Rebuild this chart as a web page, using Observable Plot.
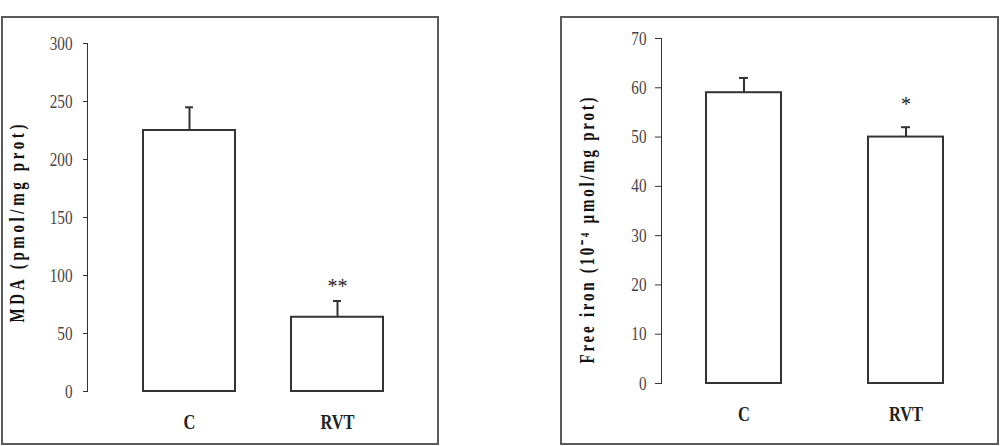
<!DOCTYPE html>
<html>
<head>
<meta charset="utf-8">
<script src="https://cdn.jsdelivr.net/npm/d3@7"></script>
<script src="https://cdn.jsdelivr.net/npm/@observablehq/plot@0.6"></script>
<style>
  html, body { margin: 0; padding: 0; background: #fff; }
  body { width: 1000px; height: 446px; position: relative; overflow: hidden; }
  .panel { position: absolute; box-sizing: border-box; border: 2px solid #5a5a5a; }
  .plot { position: absolute; top: 0; }
  svg text { font-family: "Liberation Serif", "Times New Roman", serif; }
</style>
</head>
<body>
<div class="panel" style="left:1px; top:16px; width:438px; height:429px;"></div>
<div class="panel" style="left:560px; top:16px; width:439px; height:429px;"></div>
<div id="left" class="plot" style="left:0px;"></div>
<div id="right" class="plot" style="left:500px;"></div>
<script>
const groups = ["C", "RVT"];
const mdaMean = [225, 64];
const mdaErr = [20, 14];
const mdaSig = ["", "**"];
const mdaTicks = [0, 50, 100, 150, 200, 250, 300];

const ironMean = [59, 50];
const ironErr = [3, 2];
const ironSig = ["", "*"];
const ironTicks = [0, 10, 20, 30, 40, 50, 60, 70];

function makeData(mean, err, sig) {
  return groups.map((g, i) => ({group: g, mean: mean[i], err: err[i], top: mean[i] + err[i], sig: sig[i]}));
}

function squeeze(svg, sel, k) {
  svg.querySelectorAll(sel).forEach(t => {
    const tr = t.getAttribute("transform") || "";
    t.setAttribute("transform", tr + ` scale(${k},1)`);
  });
}

function panel(opts) {
  const data = makeData(opts.mean, opts.err, opts.sig);
  const p = Plot.plot({
    width: opts.width,
    height: 446,
    marginLeft: opts.axisX,
    marginTop: opts.top,
    marginBottom: 446 - opts.bottom,
    marginRight: 0,
    style: {background: "transparent", color: "#333", overflow: "visible"},
    x: {type: "band", domain: groups, range: opts.xRange, paddingInner: opts.padIn, paddingOuter: opts.padIn / 2, label: null, tickSize: 0, tickPadding: 23},
    y: {domain: opts.domain, ticks: opts.ticks, tickFormat: d3.format("d"), label: null, line: true, tickSize: opts.tickSize, tickPadding: opts.tickPad},
    marks: [
      Plot.ruleX(data, {x: "group", y1: "mean", y2: "top", stroke: "#333", strokeWidth: 2}),
      Plot.tickY(data, {x: "group", y: "top", stroke: "#333", strokeWidth: 2, insetLeft: opts.capInset, insetRight: opts.capInset}),
      Plot.barY(data, {x: "group", y: "mean", fill: "white", stroke: "#333", strokeWidth: 2}),
      Plot.text(data, {x: "group", y: "top", text: "sig", dy: opts.sigDy, fontSize: 20, fill: "#222"}),
      Plot.text([opts.label], {frameAnchor: "left", textAnchor: "middle", text: d => d, rotate: -90, dx: opts.labelDx, dy: opts.labelDy, fontSize: 20, fontWeight: "bold", fill: "#111"})
    ]
  });
  p.querySelectorAll("g[aria-label='y-axis tick label']").forEach(g => { g.setAttribute("font-size", "19"); g.setAttribute("fill", "#444"); });
  p.querySelectorAll("g[aria-label='x-axis tick label']").forEach(g => { g.setAttribute("font-size", "20"); g.setAttribute("font-weight", "bold"); g.setAttribute("fill", "#222"); });
  p.querySelectorAll("text").forEach(t => {
    if (t.textContent === opts.label) {
      const k = 0.75;
      const tr = t.getAttribute("transform") || "";
      t.setAttribute("transform", tr + ` scale(${k},1)`);
      t.setAttribute("textLength", String(opts.labelLen / k));
      t.setAttribute("lengthAdjust", "spacing");
    }
  });
  squeeze(p, "g[aria-label='y-axis tick label'] text", 0.8);
  squeeze(p, "g[aria-label='x-axis tick label'] text", 0.82);
  return p;
}

document.getElementById("left").append(panel({
  width: 440, axisX: 87, top: 43, bottom: 391,
  domain: [0, 300], ticks: mdaTicks, tickSize: 4, tickPad: 11,
  xRange: [114.9, 411.1], padIn: 0.38, capInset: 42,
  mean: mdaMean, err: mdaErr, sig: mdaSig, sigDy: -14,
  label: "MDA (pmol/mg prot)", labelDx: -70, labelDy: 6, labelLen: 198
}));

document.getElementById("right").append(panel({
  width: 500, axisX: 161, top: 38, bottom: 383,
  domain: [0, 70], ticks: ironTicks, tickSize: 6, tickPad: 9,
  xRange: [162.5, 486.5], padIn: 0.54, capInset: 33,
  mean: ironMean, err: ironErr, sig: ironSig, sigDy: -23,
  label: "Free iron (10⁻⁴ µmol/mg prot)", labelDx: -74, labelDy: 19.5, labelLen: 266
}));
</script>
</body>
</html>
